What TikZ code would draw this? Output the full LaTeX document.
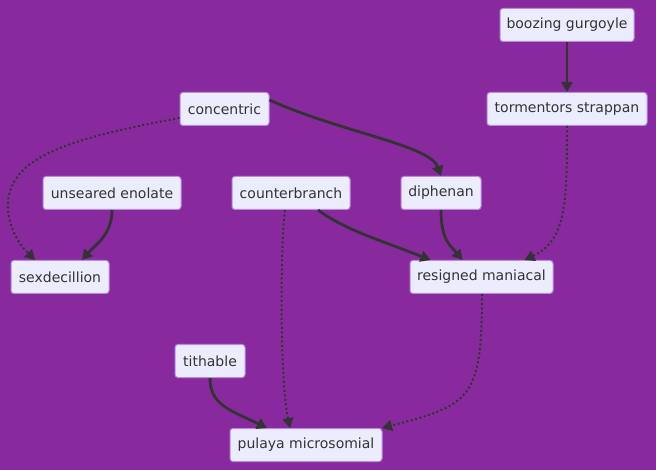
\documentclass[tikz,border=0pt]{standalone}
\usepackage{fontspec}
\setmainfont{DejaVu Sans}
\usetikzlibrary{arrows.meta}
\definecolor{bgc}{RGB}{137,41,158}
\definecolor{nodefill}{RGB}{236,236,255}
\definecolor{nodeborder}{RGB}{180,140,230}
\definecolor{edgec}{RGB}{51,51,51}
\begin{document}
\begin{tikzpicture}[x=1pt,y=-1pt,
  box/.style={draw=nodeborder,line width=1pt,fill=nodefill,rounded corners=3pt,inner sep=0pt,
    text=edgec,font=\fontsize{14}{16}\selectfont},
  solidedge/.style={draw=edgec,line width=2.8pt,-{Triangle[length=10pt,width=11pt]}},
  dotedge/.style={draw=edgec,line width=2pt,dash pattern=on 2pt off 2.5pt,-{Triangle[length=10pt,width=11pt]}}]
\fill[bgc] (0,0) rectangle (656,470);
\useasboundingbox (0,0) rectangle (656,470);
\newcommand{\bx}[6]{\node[box,minimum width=#4pt,minimum height=#5pt] (#1) at (#2,#3) {#6};}
\bx{boozing}{567}{25}{134}{33}{boozing gurgoyle}
\bx{torment}{567}{109}{160}{33}{tormentors strappan}
\bx{concentric}{224.5}{109}{89}{33}{concentric}
\bx{unseared}{112}{193}{138}{33}{unseared enolate}
\bx{counter}{291}{193}{118}{33}{counterbranch}
\bx{diphenan}{441}{193}{80}{33}{diphenan}
\bx{sexdec}{60}{277}{98}{33}{sexdecillion}
\bx{resigned}{481.5}{277}{143}{33}{resigned maniacal}
\bx{tithable}{210}{361}{70}{33}{tithable}
\bx{pulaya}{306}{445}{152}{33}{pulaya microsomial}
% edges
\draw[solidedge] (boozing.south) -- (torment.north);
\draw[dotedge] (concentric.west) ++(0,9) .. controls (60,140) and (5,160) .. (8,210) .. controls (10,235) and (25,250) .. ([xshift=-25pt]sexdec.north);
\draw[solidedge] ([yshift=9pt]concentric.east) .. controls (340,132) and (430,145) .. (diphenan.north);
\draw[solidedge] (unseared.south) .. controls (112,235) and (95,245) .. ([xshift=22pt]sexdec.north);
\draw[solidedge] ([xshift=27pt]counter.south) .. controls (345,230) and (380,240) .. ([xshift=-51pt]resigned.north);
\draw[dotedge] ([xshift=-6pt]counter.south) .. controls (280,250) and (280,380) .. ([xshift=-16pt]pulaya.north);
\draw[solidedge] (diphenan.south) .. controls (441,240) and (450,245) .. ([xshift=-19pt]resigned.north);
\draw[dotedge] (torment.south) .. controls (567,200) and (567,240) .. ([xshift=43pt]resigned.north);
\draw[dotedge] ([xshift=0.5pt]resigned.south) .. controls (482,400) and (470,405) .. ([xshift=76pt]pulaya.north);
\draw[solidedge] (tithable.south) .. controls (210,405) and (230,410) .. ([xshift=-39pt]pulaya.north);
\end{tikzpicture}
\end{document}
